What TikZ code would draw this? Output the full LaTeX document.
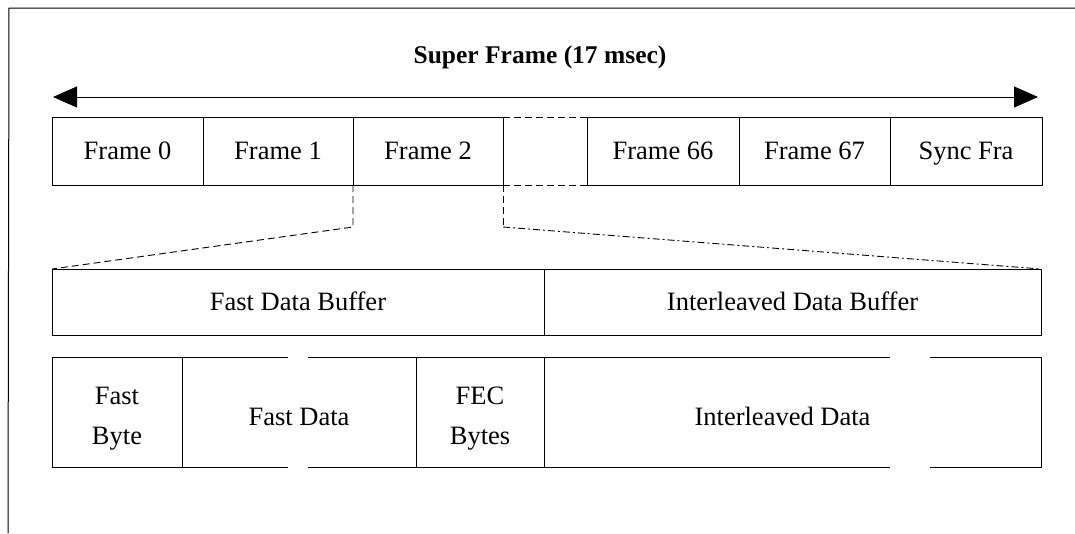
\documentclass[tikz,border=0pt]{standalone}
\usepackage{fontspec}
\setmainfont{Liberation Serif}
\usetikzlibrary{arrows.meta}
\begin{document}
\begin{tikzpicture}[x=1pt,y=-1pt,line width=1pt,
  cell/.style={draw, inner sep=0pt, outer sep=0pt, anchor=north west, align=center,
    font=\fontsize{26.5}{40}\selectfont},
  opencell/.style={cell, draw=none},
  dsh/.style={line width=0.9pt, dash pattern=on 7pt off 4pt},
  dshdot/.style={line width=0.9pt, dash pattern=on 7pt off 3pt on 2pt off 3pt},
  bigarrow/.style={{Triangle[length=24pt,width=21pt]}-{Triangle[length=24pt,width=21pt]}}]
\useasboundingbox (0,0) rectangle (1075,533);
% outer frame (cropped)
\draw (1075,8) -- (9,8) -- (8,533);
% title and arrow
\node[font=\bfseries\fontsize{25.5}{28}\selectfont] (title) at (540,57) {Super Frame (17 msec)};
\coordinate (al) at (53,97);
\coordinate (ar) at (1038,97);
\draw[bigarrow] (al) -- (ar);
% frames
\node[cell, minimum width=151pt, minimum height=68pt] (f0) at (52,117) {Frame 0\strut};
\node[cell, minimum width=150pt, minimum height=68pt] (f1) at (203,117) {Frame 1\strut};
\node[cell, minimum width=150pt, minimum height=68pt] (f2) at (353,117) {Frame 2\strut};
\node[cell, minimum width=152pt, minimum height=68pt] (f66) at (587,117) {Frame 66\strut};
\node[cell, minimum width=151pt, minimum height=68pt] (f67) at (739,117) {Frame 67\strut};
\node[cell, minimum width=152pt, minimum height=68pt] (sync) at (890,117) {Sync Fra\strut};
\draw[dsh] (f2.north east) -- (f66.north west);
\draw[dsh] (f2.south east) -- (f66.south west);
% buffers
\node[cell, minimum width=492pt, minimum height=66pt] (fdb) at (52,269) {Fast Data Buffer\strut};
\node[cell, minimum width=497pt, minimum height=66pt] (idb) at (544,269) {Interleaved Data Buffer\strut};
% expansion lines
\coordinate (k1) at (353,227);
\coordinate (k2) at (503,227);
\draw[dsh] (f2.south west) -- (k1) -- (fdb.north west);
\draw[dsh] (f2.south east) -- (k2);
\draw[dshdot] (k2) -- (idb.north east);
% lower row
\node[cell, minimum width=130pt, minimum height=110pt] (fb) at (52,357) {\rule{0pt}{36pt}Fast\\Byte\strut};
\node[opencell, minimum width=234pt, minimum height=110pt] (fd) at (182,357) {};
\node[cell, minimum width=128pt, minimum height=110pt] (fec) at (416,357) {\rule{0pt}{36pt}FEC\\Bytes\strut};
\node[opencell, minimum width=497pt, minimum height=110pt] (id) at (544,357) {};
\node[font=\fontsize{26.5}{40}\selectfont, inner sep=0pt] (fdt) at ([yshift=-5pt]fd.center) {Fast Data\strut};
\node[font=\fontsize{26.5}{40}\selectfont, inner sep=0pt] (idt) at ([xshift=-10pt,yshift=-5pt]id.center) {Interleaved Data\strut};
% gapped outlines
\coordinate (g1t) at (288,357); \coordinate (g2t) at (308,357);
\coordinate (g1b) at (288,467); \coordinate (g2b) at (308,467);
\draw (fd.north west) -- (g1t) (g2t) -- (fd.north east);
\draw (fd.south west) -- (g1b) (g2b) -- (fd.south east);
\coordinate (h1t) at (890,357); \coordinate (h2t) at (930,357);
\coordinate (h1b) at (890,467); \coordinate (h2b) at (930,467);
\draw (id.north west) -- (h1t) (h2t) -- (id.north east) -- (id.south east) -- (h2b) (h1b) -- (id.south west);
\end{tikzpicture}
\end{document}
